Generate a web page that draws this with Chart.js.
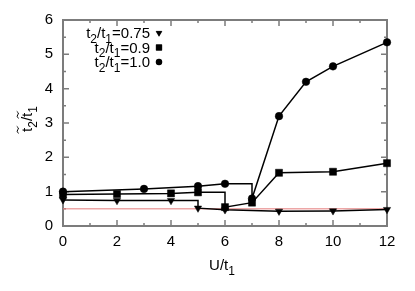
<!DOCTYPE html>
<html>
<head>
<meta charset="utf-8">
<script src="https://cdn.jsdelivr.net/npm/chart.js"></script>
<style>
  html, body { margin: 0; padding: 0; background: #fff; }
  #wrap { width: 415px; height: 291px; }
</style>
</head>
<body>
<div id="wrap"><canvas id="chart"></canvas></div>
<script>
// t2/t1 of each curve (legend order)
const ratioLabels = ['0.75', '0.9', '1.0'];

// t2/t1 = 0.75  (down triangles)
const uTri = [0, 2, 4, 5, 5, 6, 8, 10, 12];
const rTri = [0.76, 0.74, 0.74, 0.74, 0.52, 0.47, 0.43, 0.44, 0.48];

// t2/t1 = 0.9  (squares)
const uSq = [0, 2, 4, 5, 6, 6, 7, 8, 10, 12];
const rSq = [0.92, 0.93, 0.95, 0.98, 0.98, 0.55, 0.68, 1.55, 1.58, 1.83];

// t2/t1 = 1.0  (circles)
const uCirc = [0, 3, 5, 6, 7, 7, 8, 9, 10, 12];
const rCirc = [1.0, 1.08, 1.16, 1.23, 1.23, 0.8, 3.2, 4.2, 4.65, 5.35];

// thin red reference level
const refLevel = 0.5;
const uRange = [0, 12];

const xTicks = [0, 2, 4, 6, 8, 10, 12];
const yTicks = [0, 1, 2, 3, 4, 5, 6];

const FONT = '"Liberation Sans", Arial, Helvetica, sans-serif';
const AXIS_GREY = '#7c7c7c';

const toPoints = (us, rs) => us.map((u, i) => ({ x: u, y: rs[i] }));
const midpoints = arr => arr.slice(1).map((v, i) => (v + arr[i]) / 2);

// the upper corner of a vertical jump gets no marker
const markerSize = r => ctx => {
  const d = ctx.dataset.data;
  const i = ctx.dataIndex;
  const nxt = d[i + 1];
  return nxt && nxt.x === d[i].x ? 0 : r;
};

const curveStyles = [
  { pointStyle: 'triangle', rotation: 180, radius: 4.2 },
  { pointStyle: 'rect', rotation: 0, radius: 5 },
  { pointStyle: 'circle', rotation: 0, radius: 3.8 },
];

function curve(us, rs, style) {
  return {
    data: toPoints(us, rs),
    showLine: true,
    borderColor: '#000',
    borderWidth: 1.5,
    backgroundColor: '#000',
    pointStyle: style.pointStyle,
    rotation: style.rotation,
    pointRadius: markerSize(style.radius),
    pointBackgroundColor: '#000',
    pointBorderColor: '#000',
    pointBorderWidth: 0.5,
    tension: 0,
    clip: false,
  };
}

// text with subscripts / tildes, e.g. t~_2/t~_1
function drawRich(ctx, parts, x, y, align, size) {
  const subSize = Math.round(size * 0.78);
  const widthOf = p => {
    ctx.font = (p.sub ? subSize : size) + 'px ' + FONT;
    return ctx.measureText(p.s).width;
  };
  const total = parts.reduce((w, p) => w + widthOf(p), 0);
  let px = align === 'right' ? x - total : align === 'center' ? x - total / 2 : x;
  ctx.textBaseline = 'alphabetic';
  ctx.textAlign = 'left';
  parts.forEach(p => {
    const w = widthOf(p);
    ctx.fillText(p.s, px, p.sub ? y + size * 0.3 : y);
    if (p.tilde) {
      const cx = px + w / 2, ty = y - size * 0.95;
      ctx.beginPath();
      ctx.moveTo(cx - 3.5, ty + 1);
      ctx.quadraticCurveTo(cx - 1.8, ty - 2, cx, ty);
      ctx.quadraticCurveTo(cx + 1.8, ty + 2, cx + 3.5, ty - 1);
      ctx.lineWidth = 1;
      ctx.strokeStyle = '#000';
      ctx.stroke();
    }
    px += w;
  });
}

const framePlugin = {
  id: 'frame',
  beforeDatasetsDraw(chart) {
    const { ctx, chartArea: a, scales: { x, y } } = chart;
    ctx.save();
    ctx.strokeStyle = AXIS_GREY;
    ctx.lineWidth = 1.5;
    const tick = (v, len, horizontal) => {
      ctx.beginPath();
      if (horizontal) {
        const px = x.getPixelForValue(v);
        ctx.moveTo(px, a.bottom); ctx.lineTo(px, a.bottom - len);
        ctx.moveTo(px, a.top); ctx.lineTo(px, a.top + len);
      } else {
        const py = y.getPixelForValue(v);
        ctx.moveTo(a.left, py); ctx.lineTo(a.left + len, py);
        ctx.moveTo(a.right, py); ctx.lineTo(a.right - len, py);
      }
      ctx.stroke();
    };
    xTicks.forEach(v => tick(v, 6, true));
    midpoints(xTicks).forEach(v => tick(v, 3, true));
    yTicks.forEach(v => tick(v, 6, false));
    midpoints(yTicks).forEach(v => tick(v, 3, false));
    ctx.lineWidth = 2;
    ctx.strokeRect(a.left, a.top, a.right - a.left, a.bottom - a.top);
    ctx.restore();
  },
  afterDraw(chart) {
    const { ctx, chartArea: a } = chart;
    ctx.save();
    ctx.fillStyle = '#000';

    // legend, top left inside the frame
    ratioLabels.forEach((lab, i) => {
      const rowY = 33 + i * 14.5;
      drawRich(ctx, [
        { s: 't' }, { s: '2', sub: true }, { s: '/t' }, { s: '1', sub: true }, { s: '=' + lab }
      ], 150, rowY + 5, 'right', 15);
      const st = curveStyles[i];
      Chart.helpers.drawPoint(ctx, {
        pointStyle: st.pointStyle, rotation: st.rotation,
        radius: st.radius * 0.8, borderWidth: 0.5
      }, 159, rowY);
      ctx.fill();
    });

    // x title
    drawRich(ctx, [{ s: 'U/t' }, { s: '1', sub: true }], 222, 270, 'center', 15);

    // y title
    ctx.translate(32, (a.top + a.bottom) / 2 - 4);
    ctx.rotate(-Math.PI / 2);
    drawRich(ctx, [
      { s: 't', tilde: true }, { s: '2', sub: true }, { s: '/' },
      { s: 't', tilde: true }, { s: '1', sub: true }
    ], 0, 0, 'center', 15);
    ctx.restore();
  }
};

const ctx = document.getElementById('chart').getContext('2d');
new Chart(ctx, {
  type: 'scatter',
  data: {
    datasets: [
      {
        data: toPoints(uRange, [refLevel, refLevel]),
        showLine: true,
        borderColor: '#e57b7b',
        borderWidth: 1,
        pointRadius: 0,
        order: 5,
      },
      curve(uTri, rTri, curveStyles[0]),
      curve(uSq, rSq, curveStyles[1]),
      curve(uCirc, rCirc, curveStyles[2]),
    ]
  },
  options: {
    responsive: true,
    maintainAspectRatio: false,
    animation: false,
    layout: { padding: { top: 20, right: 28, left: 0, bottom: 0 } },
    plugins: {
      legend: { display: false },
      tooltip: { enabled: false }
    },
    scales: {
      x: {
        type: 'linear',
        min: 0, max: 12,
        grid: { display: false, drawTicks: false },
        border: { display: false },
        afterBuildTicks: s => { s.ticks = xTicks.map(v => ({ value: v })); },
        afterFit: s => { s.height = 65; },
        ticks: {
          color: '#000', padding: 7, maxRotation: 0,
          font: { family: FONT, size: 15 }
        }
      },
      y: {
        type: 'linear',
        min: 0, max: 6,
        grid: { display: false, drawTicks: false },
        border: { display: false },
        afterBuildTicks: s => { s.ticks = yTicks.map(v => ({ value: v })); },
        afterFit: s => { s.width = 63; },
        ticks: {
          color: '#000', padding: 10,
          font: { family: FONT, size: 15 }
        }
      }
    }
  },
  plugins: [framePlugin]
});
</script>
</body>
</html>
